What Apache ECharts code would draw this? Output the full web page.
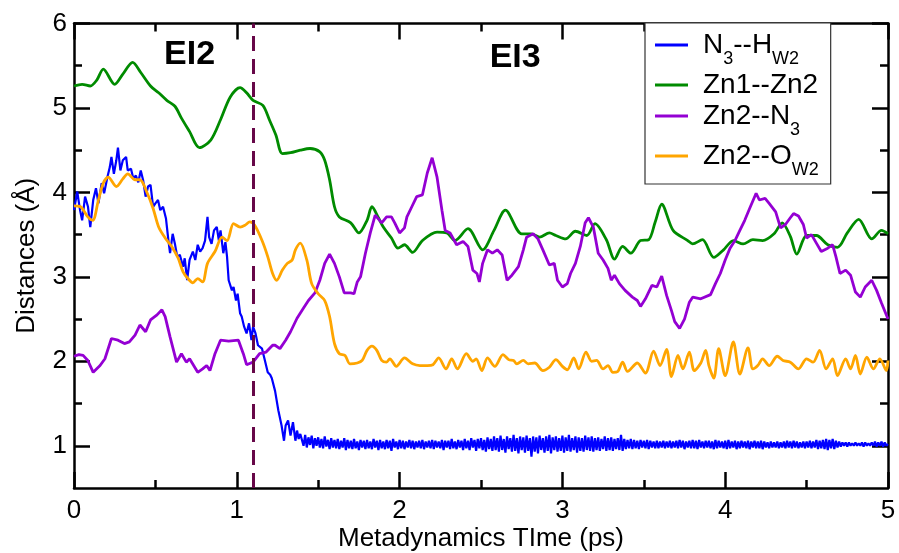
<!DOCTYPE html>
<html>
<head>
<meta charset="utf-8">
<title>Distances vs metadynamics time</title>
<script src="https://cdn.jsdelivr.net/npm/echarts@6/dist/echarts.min.js"></script>
<style>
    html, body { margin: 0; padding: 0; background: #fff; }
    #chart { width: 899px; height: 553px; }
</style>
</head>
<body>
<div id="chart"></div>
<script>
// values: [time (ps), distance (Å)]
var n3Hw2Head = [
    [0, 3.79], [0.02, 4.01], [0.037, 3.79], [0.05, 3.67], [0.068, 3.95], [0.086, 3.83], [0.1, 3.59],
    [0.118, 3.91], [0.135, 4.05], [0.15, 3.87], [0.17, 4.11], [0.185, 3.99], [0.205, 4.18], [0.22, 4.3],
    [0.23, 4.42], [0.245, 4.22], [0.26, 4.38], [0.27, 4.53], [0.285, 4.26], [0.3, 4.38], [0.32, 4.42],
    [0.33, 4.26], [0.35, 4.28], [0.365, 4.16], [0.38, 4.2], [0.395, 4.12], [0.41, 4.26], [0.425, 4.14],
    [0.44, 3.95], [0.455, 4.07], [0.47, 4.09], [0.486, 3.83], [0.5, 3.87], [0.516, 3.91], [0.53, 3.79],
    [0.547, 3.83], [0.565, 3.69], [0.58, 3.43], [0.59, 3.28], [0.606, 3.51], [0.62, 3.39], [0.634, 3.24],
    [0.65, 3.26], [0.67, 3.12], [0.68, 3.22], [0.695, 2.96], [0.71, 3.2], [0.73, 3.3], [0.745, 3.2],
    [0.76, 3.38], [0.775, 3.3], [0.79, 3.34], [0.805, 3.43], [0.82, 3.71], [0.83, 3.47], [0.845, 3.39],
    [0.86, 3.55], [0.877, 3.59], [0.89, 3.43], [0.9, 3.55], [0.917, 3.28], [0.93, 3.41], [0.94, 3.24],
    [0.95, 2.96], [0.97, 2.84], [0.98, 2.88], [0.995, 2.72], [1.005, 2.8], [1.02, 2.57], [1.03, 2.53],
    [1.045, 2.41], [1.06, 2.33], [1.075, 2.45], [1.09, 2.25], [1.1, 2.41], [1.115, 2.33], [1.13, 2.19],
    [1.155, 2.15], [1.17, 2.03], [1.19, 1.87], [1.205, 1.84], [1.215, 1.8], [1.235, 1.65], [1.255, 1.42],
    [1.275, 1.24], [1.29, 1.06], [1.3, 1.24], [1.315, 1.3], [1.33, 1.12], [1.345, 1.28], [1.36, 1.06],
    [1.37, 1.18], [1.38, 1.08], [1.39, 1.14]
];
// after 1.40 ps the N3--HW2 distance is sampled every 0.01 ps
var n3Hw2TailStart = 1.4;
var n3Hw2TailStep = 0.01;
var n3Hw2Tail = [
    1.12, 1.00, 1.13, 0.98, 1.10, 1.01, 1.12, 0.97, 1.09, 1.00,
    1.10, 0.98, 1.08, 0.97, 1.11, 0.99, 1.07, 0.96, 1.09, 0.98,
    1.07, 0.97, 1.08, 0.96, 1.06, 0.98, 1.09, 0.95, 1.07, 0.97,
    1.06, 0.96, 1.08, 0.97, 1.05, 0.95, 1.07, 0.98, 1.06, 0.96,
    1.07, 0.97, 1.05, 0.96, 1.08, 0.98, 1.06, 0.95, 1.07, 0.97,
    1.05, 0.96, 1.07, 0.97, 1.06, 0.94, 1.08, 0.98, 1.05, 0.96,
    1.07, 0.97, 1.06, 0.96, 1.05, 0.98, 1.07, 0.97, 1.06, 0.96,
    1.05, 0.98, 1.06, 0.97, 1.07, 0.96, 1.05, 0.98, 1.06, 0.97,
    1.07, 0.96, 1.06, 0.98, 1.05, 0.97, 1.07, 0.95, 1.06, 0.98,
    1.06, 0.96, 1.08, 0.97, 1.05, 0.96, 1.07, 0.98, 1.06, 0.95,
    1.08, 0.97, 1.06, 0.95, 1.09, 0.98, 1.07, 0.94, 1.08, 0.97,
    1.09, 0.95, 1.07, 0.93, 1.10, 0.96, 1.08, 0.94, 1.11, 0.95,
    1.09, 0.93, 1.12, 0.95, 1.08, 0.92, 1.11, 0.96, 1.09, 0.93,
    1.13, 0.94, 1.09, 0.91, 1.11, 0.95, 1.10, 0.92, 1.12, 0.94,
    1.09, 0.87, 1.11, 0.93, 1.10, 0.91, 1.12, 0.95, 1.09, 0.92,
    1.11, 0.94, 1.13, 0.91, 1.10, 0.95, 1.11, 0.93, 1.09, 0.94,
    1.12, 0.92, 1.10, 0.94, 1.13, 0.93, 1.09, 0.95, 1.11, 0.92,
    1.10, 0.94, 1.09, 0.93, 1.12, 0.95, 1.10, 0.94, 1.11, 0.93,
    1.09, 0.95, 1.10, 0.94, 1.08, 0.96, 1.11, 0.94, 1.09, 0.95,
    1.10, 0.94, 1.08, 0.96, 1.09, 0.95, 1.13, 0.94, 1.08, 0.96,
    1.07, 0.97, 1.08, 0.96, 1.07, 0.97, 1.06, 0.96, 1.07, 0.98,
    1.06, 0.97, 1.07, 0.96, 1.06, 0.98, 1.05, 0.97, 1.06, 0.97,
    1.05, 0.98, 1.06, 0.97, 1.05, 0.98, 1.06, 0.97, 1.05, 0.98,
    1.06, 0.97, 1.07, 0.98, 1.06, 0.96, 1.05, 0.98, 1.06, 0.97,
    1.07, 0.97, 1.06, 0.96, 1.07, 0.98, 1.05, 0.97, 1.06, 0.98,
    1.06, 0.97, 1.05, 0.96, 1.07, 0.97, 1.06, 0.98, 1.05, 0.97,
    1.06, 0.96, 1.07, 0.97, 1.05, 0.98, 1.06, 0.96, 1.05, 0.97,
    1.06, 0.98, 1.05, 0.97, 1.06, 0.96, 1.05, 0.98, 1.06, 0.97,
    1.05, 0.97, 1.06, 0.96, 1.05, 0.98, 1.04, 0.97, 1.05, 0.98,
    1.04, 0.98, 1.05, 0.97, 1.04, 0.98, 1.05, 0.97, 1.06, 0.98,
    1.05, 0.97, 1.06, 0.98, 1.05, 0.97, 1.04, 0.98, 1.05, 0.97,
    1.05, 0.98, 1.06, 0.97, 1.05, 0.98, 1.07, 0.96, 1.06, 0.97,
    1.07, 0.96, 1.08, 0.95, 1.07, 0.97, 1.08, 0.96, 1.06, 0.98,
    1.05, 0.99, 1.04, 1.00, 1.04, 0.99, 1.04, 1.00, 1.03, 1.00,
    1.04, 1.00, 1.03, 1.00, 1.04, 0.99, 1.04, 1.00, 1.03, 1.00,
    1.04, 1.00, 1.05, 0.99, 1.04, 1.00, 1.05, 0.99, 1.04, 1.00,
    1.02
];
var zn1Zn2 = [
    [0, 5.26], [0.05, 5.28], [0.1, 5.26], [0.14, 5.33], [0.18, 5.46], [0.25, 5.28], [0.3, 5.4],
    [0.36, 5.54], [0.41, 5.42], [0.47, 5.26], [0.52, 5.18], [0.57, 5.09], [0.62, 5.02], [0.66, 4.88],
    [0.71, 4.72], [0.77, 4.53], [0.84, 4.62], [0.9, 4.86], [0.96, 5.13], [1.02, 5.24], [1.06, 5.18],
    [1.1, 5.09], [1.16, 5.03], [1.2, 4.86], [1.24, 4.68], [1.28, 4.46], [1.33, 4.47], [1.39, 4.5],
    [1.45, 4.52], [1.51, 4.48], [1.54, 4.38], [1.57, 4.15], [1.6, 3.83], [1.63, 3.71], [1.7, 3.64],
    [1.75, 3.52], [1.8, 3.67], [1.83, 3.83], [1.87, 3.7], [1.9, 3.59], [1.95, 3.46], [1.99, 3.34],
    [2.03, 3.38], [2.08, 3.29], [2.14, 3.43], [2.23, 3.53], [2.29, 3.52], [2.34, 3.43], [2.42, 3.57],
    [2.51, 3.32], [2.58, 3.55], [2.65, 3.79], [2.75, 3.51], [2.81, 3.51], [2.86, 3.47], [2.92, 3.52],
    [2.96, 3.49], [3.02, 3.45], [3.08, 3.54], [3.15, 3.49], [3.2, 3.63], [3.27, 3.44], [3.32, 3.21],
    [3.37, 3.36], [3.42, 3.28], [3.48, 3.43], [3.53, 3.44], [3.57, 3.65], [3.61, 3.86], [3.68, 3.55],
    [3.77, 3.43], [3.8, 3.39], [3.86, 3.44], [3.93, 3.23], [3.99, 3.32], [4.05, 3.43], [4.11, 3.39],
    [4.17, 3.44], [4.23, 3.43], [4.3, 3.51], [4.35, 3.64], [4.4, 3.48], [4.44, 3.27], [4.5, 3.49],
    [4.56, 3.49], [4.63, 3.38], [4.69, 3.35], [4.75, 3.52], [4.82, 3.68], [4.9, 3.45], [4.96, 3.55],
    [5, 3.51]
];
var zn2N3 = [
    [0, 2.06], [0.03, 2.08], [0.056, 2.07], [0.085, 2.01], [0.118, 1.87], [0.16, 1.95], [0.19, 2.03],
    [0.23, 2.27], [0.27, 2.25], [0.31, 2.21], [0.34, 2.23], [0.375, 2.31], [0.405, 2.43], [0.44, 2.35],
    [0.47, 2.49], [0.51, 2.55], [0.54, 2.61], [0.56, 2.53], [0.59, 2.29], [0.63, 1.99], [0.66, 2.09],
    [0.69, 1.99], [0.71, 2.03], [0.76, 1.87], [0.79, 1.91], [0.815, 1.95], [0.835, 1.89], [0.866, 2.09],
    [0.9, 2.25], [0.95, 2.24], [1.01, 2.25], [1.04, 2.09], [1.06, 1.96], [1.1, 1.99], [1.14, 2.09],
    [1.18, 2.11], [1.22, 2.19], [1.235, 2.19], [1.265, 2.15], [1.3, 2.25], [1.33, 2.35], [1.37, 2.51],
    [1.41, 2.63], [1.44, 2.72], [1.48, 2.81], [1.51, 2.96], [1.54, 3.16], [1.57, 3.27], [1.6, 3.16],
    [1.63, 3.0], [1.66, 2.81], [1.7, 2.81], [1.72, 2.8], [1.74, 2.94], [1.76, 3.0], [1.79, 3.28],
    [1.82, 3.52], [1.85, 3.73], [1.89, 3.64], [1.92, 3.71], [1.95, 3.71], [1.97, 3.64], [2.0, 3.52],
    [2.03, 3.58], [2.045, 3.71], [2.075, 3.83], [2.105, 3.95], [2.14, 3.97], [2.17, 4.23], [2.2, 4.41],
    [2.23, 4.18], [2.26, 3.79], [2.28, 3.55], [2.31, 3.52], [2.35, 3.38], [2.39, 3.42], [2.42, 3.36],
    [2.45, 3.08], [2.475, 3.04], [2.49, 2.94], [2.51, 3.16], [2.54, 3.32], [2.57, 3.28], [2.6, 3.32],
    [2.63, 3.26], [2.66, 2.96], [2.69, 3.02], [2.73, 3.12], [2.76, 3.32], [2.78, 3.47], [2.82, 3.51],
    [2.85, 3.45], [2.88, 3.32], [2.92, 3.14], [2.95, 3.16], [2.97, 2.96], [3.0, 2.88], [3.03, 2.92],
    [3.05, 3.04], [3.08, 3.16], [3.11, 3.36], [3.14, 3.64], [3.16, 3.7], [3.19, 3.59], [3.22, 3.28],
    [3.25, 3.2], [3.28, 3.1], [3.3, 2.96], [3.32, 3.02], [3.35, 2.92], [3.385, 2.84], [3.43, 2.76],
    [3.46, 2.72], [3.48, 2.65], [3.51, 2.74], [3.55, 2.9], [3.58, 2.88], [3.61, 3.01], [3.64, 2.78],
    [3.67, 2.6], [3.69, 2.47], [3.72, 2.39], [3.75, 2.5], [3.78, 2.7], [3.8, 2.76], [3.85, 2.74],
    [3.91, 2.79], [3.94, 2.92], [3.97, 3.04], [4.0, 3.2], [4.03, 3.34], [4.06, 3.43], [4.09, 3.55],
    [4.12, 3.67], [4.15, 3.81], [4.19, 3.99], [4.21, 3.91], [4.245, 3.93], [4.27, 3.87], [4.31, 3.77],
    [4.34, 3.58], [4.37, 3.62], [4.4, 3.7], [4.42, 3.75], [4.45, 3.72], [4.48, 3.62], [4.5, 3.46],
    [4.53, 3.5], [4.56, 3.4], [4.59, 3.3], [4.63, 3.34], [4.66, 3.38], [4.68, 3.24], [4.705, 3.04],
    [4.74, 3.08], [4.77, 3.02], [4.8, 2.82], [4.83, 2.76], [4.86, 2.88], [4.9, 2.96], [4.93, 2.84],
    [4.96, 2.69], [5.0, 2.5]
];
var zn2Ow2 = [
    [0, 3.84], [0.04, 3.83], [0.085, 3.71], [0.115, 3.67], [0.15, 3.91], [0.18, 4.11], [0.21, 4.18],
    [0.26, 4.07], [0.3, 4.16], [0.33, 4.22], [0.375, 4.15], [0.405, 4.15], [0.45, 3.99], [0.486, 3.81],
    [0.52, 3.59], [0.56, 3.46], [0.6, 3.36], [0.64, 3.22], [0.67, 3.06], [0.7, 2.98], [0.73, 2.93],
    [0.76, 2.98], [0.79, 2.94], [0.82, 3.16], [0.866, 3.3], [0.91, 3.47], [0.94, 3.43], [0.98, 3.63],
    [1.02, 3.59], [1.05, 3.61], [1.08, 3.65], [1.11, 3.61], [1.155, 3.43], [1.19, 3.24], [1.22, 3.04],
    [1.245, 2.96], [1.28, 3.08], [1.31, 3.16], [1.34, 3.2], [1.36, 3.32], [1.39, 3.4], [1.43, 3.2],
    [1.46, 2.92], [1.5, 2.8], [1.54, 2.72], [1.57, 2.53], [1.6, 2.21], [1.63, 2.09], [1.665, 2.07],
    [1.695, 1.97], [1.74, 1.98], [1.77, 2.01], [1.8, 2.13], [1.83, 2.18], [1.86, 2.13], [1.89, 2.01],
    [1.92, 1.99], [1.94, 2.03], [1.98, 1.94], [2.03, 2.04], [2.08, 1.97], [2.125, 1.95], [2.17, 1.95],
    [2.205, 1.96], [2.24, 2.04], [2.285, 1.91], [2.32, 2.03], [2.355, 1.91], [2.41, 2.09], [2.45, 2.0],
    [2.47, 2.03], [2.505, 1.89], [2.54, 2.04], [2.585, 1.94], [2.635, 2.08], [2.67, 2.02], [2.7, 2.01],
    [2.72, 1.97], [2.76, 2.01], [2.79, 1.97], [2.83, 1.98], [2.88, 1.89], [2.92, 1.93], [2.96, 2.02],
    [3.0, 1.94], [3.03, 1.9], [3.07, 2.04], [3.1, 1.91], [3.145, 2.11], [3.18, 2.0], [3.21, 2.01],
    [3.25, 1.91], [3.28, 1.95], [3.31, 1.87], [3.34, 1.88], [3.37, 1.99], [3.4, 1.88], [3.46, 1.98],
    [3.51, 1.86], [3.56, 2.12], [3.6, 1.95], [3.64, 2.14], [3.67, 1.82], [3.71, 2.07], [3.74, 1.91],
    [3.78, 2.11], [3.81, 1.89], [3.85, 1.98], [3.88, 2.13], [3.9, 1.95], [3.93, 1.8], [3.96, 2.15],
    [4.0, 1.83], [4.05, 2.23], [4.09, 1.85], [4.14, 2.16], [4.17, 1.91], [4.2, 1.95], [4.23, 2.03],
    [4.27, 1.95], [4.32, 2.06], [4.355, 2.01], [4.4, 1.99], [4.45, 1.91], [4.5, 2.03], [4.54, 1.99],
    [4.58, 2.13], [4.62, 1.91], [4.66, 2.03], [4.69, 1.83], [4.74, 2.03], [4.77, 1.91], [4.8, 2.07],
    [4.83, 1.85], [4.87, 2.05], [4.91, 1.91], [4.95, 2.03], [4.99, 1.89], [5.0, 2.01]
];
var yMajorTicks = [1, 2, 3, 4, 5, 6];
var yMinorTicks = [1.5, 2.5, 3.5, 4.5, 5.5];
var transitionTime = 1.1;

var font = "'Liberation Sans', Arial, Helvetica, sans-serif";

var n3Hw2 = n3Hw2Head.slice();
for (var i = 0; i < n3Hw2Tail.length; i++) {
    n3Hw2.push([+(n3Hw2TailStart + i * n3Hw2TailStep).toFixed(2), n3Hw2Tail[i]]);
}

var legendLabels = {
    "N3--HW2": "{n|N}{s|3}{n|--H}{s|W2}",
    "Zn1--Zn2": "{n|Zn1--Zn2}",
    "Zn2--N3": "{n|Zn2--N}{s|3}",
    "Zn2--OW2": "{n|Zn2--O}{s|W2}"
};

function blackLine() {
    return { color: "#000", width: 2.5 };
}

function yAxisPart(position, ticks, tickLength, showLine, showLabel) {
    var axis = {
        type: "value",
        position: position,
        min: 0.5,
        max: 6,
        splitLine: { show: false },
        axisLine: { show: showLine, lineStyle: blackLine() },
        axisTick: { show: true, inside: true, length: tickLength, customValues: ticks, lineStyle: blackLine() },
        axisLabel: { show: showLabel, customValues: ticks, fontSize: 26, color: "#000", fontFamily: font, margin: 7 }
    };
    if (showLabel) {
        axis.name = "Distances (Å)";
        axis.nameLocation = "middle";
        axis.nameGap = 34;
        axis.nameMoveOverlap = false;
        axis.nameTextStyle = { fontSize: 26, color: "#000", fontFamily: font };
    }
    return axis;
}

function xAxisPart(position, showLabel) {
    var axis = {
        type: "value",
        position: position,
        min: 0,
        max: 5,
        interval: 1,
        splitLine: { show: false },
        axisLine: { show: true, onZero: false, lineStyle: blackLine() },
        axisTick: { show: true, inside: true, length: 16, lineStyle: blackLine() },
        minorTick: { show: true, splitNumber: 2, length: 8, lineStyle: blackLine() },
        axisLabel: { show: showLabel, fontSize: 26, color: "#000", fontFamily: font, margin: 10 }
    };
    if (showLabel) {
        axis.name = "Metadynamics TIme (ps)";
        axis.nameLocation = "middle";
        axis.nameGap = 38;
        axis.nameMoveOverlap = false;
        axis.nameTextStyle = { fontSize: 26, color: "#000", fontFamily: font };
    }
    return axis;
}

var myChart = echarts.init(document.getElementById("chart"));
var option = {
    animation: false,
    backgroundColor: "#fff",
    grid: { left: 74, right: 11, top: 23.5, bottom: 65, outerBoundsMode: "none", containLabel: false },
    xAxis: [xAxisPart("bottom", true), xAxisPart("top", false)],
    yAxis: [
        yAxisPart("left", yMajorTicks, 16, true, true),
        yAxisPart("left", yMinorTicks, 8, false, false),
        yAxisPart("right", yMajorTicks, 16, true, false),
        yAxisPart("right", yMinorTicks, 8, false, false)
    ],
    legend: {
        orient: "vertical",
        left: 645,
        top: 23,
        padding: [8, 12, 5, 10],
        itemGap: 3,
        itemWidth: 33,
        itemHeight: 3,
        icon: "rect",
        selectedMode: false,
        backgroundColor: "#fff",
        borderColor: "#333",
        borderWidth: 1.2,
        borderRadius: 0,
        formatter: function(name) {
            return legendLabels[name];
        },
        textStyle: {
            padding: [0, 0, 0, 10],
            rich: {
                n: { fontSize: 28, lineHeight: 28, verticalAlign: "top", color: "#000", fontFamily: font },
                s: { fontSize: 18, lineHeight: 18, padding: [19, 0, 0, 0], verticalAlign: "top", color: "#000", fontFamily: font }
            }
        }
    },
    series: [
        {
            name: "N3--HW2",
            type: "line",
            data: n3Hw2,
            showSymbol: false,
            color: "#0000ff",
            lineStyle: { width: 2.2 }
        },
        {
            name: "Zn1--Zn2",
            type: "line",
            data: zn1Zn2,
            showSymbol: false,
            smooth: 0.3,
            color: "#008b00",
            lineStyle: { width: 2.8 },
            markPoint: {
                symbol: "rect",
                symbolSize: 1,
                itemStyle: { color: "rgba(0,0,0,0)" },
                label: {
                    show: true,
                    position: "inside",
                    formatter: "{b}",
                    fontSize: 34,
                    fontWeight: "bold",
                    color: "#000",
                    fontFamily: font
                },
                data: [
                    { name: "EI2", coord: [0.71, 5.63] },
                    { name: "EI3", coord: [2.71, 5.6] }
                ]
            }
        },
        {
            name: "Zn2--N3",
            type: "line",
            data: zn2N3,
            showSymbol: false,
            color: "#9400d3",
            lineStyle: { width: 2.8 }
        },
        {
            name: "Zn2--OW2",
            type: "line",
            data: zn2Ow2,
            showSymbol: false,
            smooth: 0.3,
            color: "#ffa500",
            lineStyle: { width: 2.8 },
            markLine: {
                silent: true,
                symbol: "none",
                label: { show: false },
                lineStyle: { color: "#670748", width: 3, type: [15, 8] },
                data: [{ xAxis: transitionTime }]
            }
        }
    ]
};
myChart.setOption(option);
</script>
</body>
</html>
